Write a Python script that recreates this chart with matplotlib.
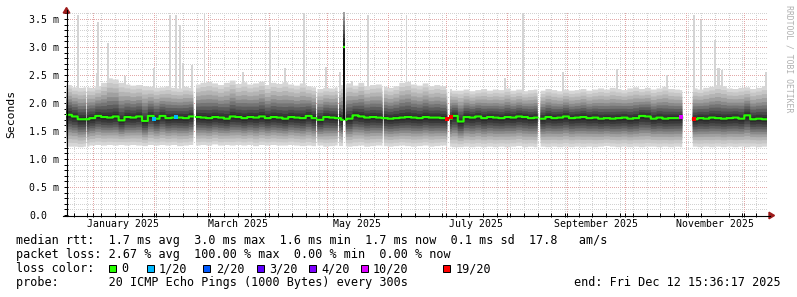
import numpy as np
import pandas as pd
import matplotlib
matplotlib.use("Agg")
import matplotlib.pyplot as plt
import matplotlib.dates as mdates
from matplotlib.patches import Rectangle, Polygon
from matplotlib.lines import Line2D

W, H = 797, 297
MONO = "DejaVu Sans Mono"

# ---------------- data ----------------
t_start = pd.Timestamp("2024-12-18 00:00")
t_end = pd.Timestamp("2025-12-12 15:36:17")
step_days = 3  # one sample per 3 days

median_ms = [
    1.79, 1.76, 1.71, 1.71, 1.73, 1.77, 1.75, 1.74, 1.76, 1.69,
    1.75, 1.74, 1.76, 1.68, 1.77, 1.72, 1.77, 1.73, 1.74, 1.74,
    1.73, 1.76, 1.75, 1.74, 1.73, 1.75, 1.74, 1.72, 1.76, 1.75,
    1.73, 1.75, 1.74, 1.76, 1.73, 1.75, 1.74, 1.72, 1.75, 1.74,
    1.73, 1.77, 1.73, 1.70, 1.75, 1.74, 1.73, 1.70, 1.72, 1.78,
    1.76, 1.74, 1.75, 1.74, 1.73, 1.72, 1.73, 1.74, 1.75, 1.74,
    1.73, 1.75, 1.74, 1.74, 1.73, 1.72, 1.77, 1.67, 1.75, 1.74,
    1.76, 1.73, 1.75, 1.74, 1.73, 1.75, 1.74, 1.76, 1.75, 1.73,
    1.74, 1.72, 1.75, 1.73, 1.74, 1.76, 1.73, 1.74, 1.75, 1.73,
    1.74, 1.72, 1.73, 1.72, 1.73, 1.74, 1.72, 1.73, 1.77, 1.76,
    1.72, 1.74, 1.72, 1.73, 1.73, 1.74, 1.73, 1.71, 1.73, 1.72,
    1.74, 1.73, 1.72, 1.73, 1.74, 1.72, 1.78, 1.71, 1.72, 1.71,
]
low_ms = [
    1.22, 1.22, 1.21, 1.22, 1.24, 1.25, 1.24, 1.25, 1.24, 1.25,
    1.24, 1.25, 1.24, 1.23, 1.25, 1.24, 1.25, 1.24, 1.25, 1.23,
    1.24, 1.25, 1.24, 1.25, 1.24, 1.26, 1.24, 1.25, 1.24, 1.25,
    1.24, 1.25, 1.23, 1.25, 1.24, 1.25, 1.24, 1.24, 1.25, 1.24,
    1.23, 1.24, 1.23, 1.24, 1.22, 1.23, 1.24, 1.23, 1.22, 1.23,
    1.24, 1.22, 1.23, 1.24, 1.23, 1.22, 1.23, 1.24, 1.23, 1.22,
    1.23, 1.24, 1.22, 1.23, 1.24, 1.22, 1.21, 1.21, 1.22, 1.21,
    1.22, 1.21, 1.22, 1.21, 1.22, 1.21, 1.22, 1.23, 1.21, 1.22,
    1.21, 1.22, 1.21, 1.22, 1.21, 1.22, 1.21, 1.22, 1.21, 1.22,
    1.21, 1.22, 1.23, 1.22, 1.21, 1.22, 1.21, 1.22, 1.21, 1.22,
    1.22, 1.21, 1.22, 1.21, 1.22, 1.21, 1.22, 1.22, 1.21, 1.22,
    1.21, 1.22, 1.21, 1.22, 1.21, 1.22, 1.21, 1.22, 1.21, 1.22,
]
high_ms = [
    2.32, 2.28, 2.27, 2.28, 2.27, 2.30, 2.36, 2.44, 2.42, 2.36,
    2.33, 2.31, 2.32, 2.30, 2.29, 2.27, 2.28, 2.30, 2.27, 2.26,
    2.29, 2.27, 2.33, 2.36, 2.38, 2.35, 2.32, 2.36, 2.40, 2.34,
    2.37, 2.33, 2.35, 2.38, 2.32, 2.36, 2.34, 2.37, 2.33, 2.31,
    2.35, 2.30, 2.28, 2.25, 2.27, 2.26, 2.28, 2.33, 2.35, 2.31,
    2.36, 2.30, 2.32, 2.33, 2.29, 2.27, 2.30, 2.36, 2.38, 2.33,
    2.31, 2.35, 2.30, 2.32, 2.30, 2.25, 2.22, 2.22, 2.24, 2.21,
    2.23, 2.25, 2.22, 2.24, 2.23, 2.26, 2.22, 2.24, 2.21, 2.23,
    2.24, 2.22, 2.25, 2.23, 2.21, 2.24, 2.22, 2.23, 2.25, 2.22,
    2.24, 2.26, 2.24, 2.27, 2.25, 2.23, 2.26, 2.28, 2.25, 2.27,
    2.24, 2.26, 2.29, 2.25, 2.24, 2.23, 2.20, 2.26, 2.24, 2.27,
    2.29, 2.32, 2.30, 2.26, 2.25, 2.27, 2.28, 2.25, 2.27, 2.30,
]

# highest ping of single samples (light grey spikes)
peak_dates = [
    "2024-12-24 00:00", "2025-01-02 18:00", "2025-01-03 13:40", "2025-01-08 17:00",
    "2025-01-17 07:00", "2025-02-01 03:36", "2025-02-09 08:38", "2025-02-12 06:43",
    "2025-02-14 12:00", "2025-02-15 21:00", "2025-02-20 12:00", "2025-02-27 01:26",
    "2025-03-18 19:12", "2025-04-01 16:48", "2025-04-09 09:36", "2025-04-18 21:36",
    "2025-04-30 09:36", "2025-05-07 14:24", "2025-05-13 16:48", "2025-05-22 00:00",
    "2025-06-10 16:48", "2025-07-31 04:48", "2025-08-09 12:00", "2025-08-30 00:00",
    "2025-09-26 16:48", "2025-10-22 09:36", "2025-11-05 04:48", "2025-11-08 19:12",
    "2025-11-16 04:48", "2025-11-17 07:12", "2025-11-18 04:48", "2025-11-19 14:24",
    "2025-12-12 04:48",
]
peak_ms = [
    3.57, 2.53, 3.45, 3.08,
    2.48, 2.62, 3.57, 3.57,
    3.39, 2.71, 2.68, 3.60,
    2.55, 3.35, 2.62, 3.60,
    2.64, 2.55, 2.40, 3.57,
    3.57, 2.45, 3.60, 2.55,
    2.60, 2.50, 3.57, 3.48,
    3.12, 2.62, 2.62, 2.59,
    2.55,
]

# periods without data
gap_starts = ["2024-12-28 06:14", "2025-02-21 07:12", "2025-04-25 07:12", "2025-05-06 09:36",
              "2025-05-10 00:00", "2025-05-29 09:36", "2025-07-01 14:24", "2025-08-16 21:36",
              "2025-10-30 04:48"]
gap_ends = ["2024-12-28 16:48", "2025-02-22 16:48", "2025-04-26 00:00", "2025-05-07 04:48",
            "2025-05-10 14:00", "2025-05-30 02:24", "2025-07-03 00:00", "2025-08-18 12:00",
            "2025-11-04 14:24"]

# latency burst
burst_start = "2025-05-09 00:00"
burst_end = "2025-05-10 00:00"
burst_low_ms = 1.70
burst_median_ms = 3.00
burst_high_ms = 3.62

# samples with packet loss
loss_dates = ["2025-02-01 03:36", "2025-02-12 07:12", "2025-07-01 07:12",
              "2025-07-03 09:36", "2025-10-29 12:00", "2025-11-05 04:48"]
loss_ms = [1.714, 1.755, 1.71, 1.744, 1.744, 1.71]
loss_level = ["1/20", "1/20", "19/20", "19/20", "10/20", "19/20"]

loss_legend_labels = ["0", "1/20", "2/20", "3/20", "4/20", "10/20", "19/20"]
loss_legend_colors = ["#26ff00", "#00b8ff", "#0059ff", "#5e00ff", "#7e00ff", "#dd00ff", "#ff0000"]

month_label_text = ["January 2025", "March 2025", "May 2025", "July 2025",
                    "September 2025", "November 2025"]
month_label_month = [1, 3, 5, 7, 9, 11]

ytick_vals = [0.0, 0.5, 1.0, 1.5, 2.0, 2.5, 3.0, 3.5]
ytick_text = ["0.0", "0.5 m", "1.0 m", "1.5 m", "2.0 m", "2.5 m", "3.0 m", "3.5 m"]

legend_line1 = "median rtt:  1.7 ms avg  3.0 ms max  1.6 ms min  1.7 ms now  0.1 ms sd  17.8   am/s"
legend_line2 = "packet loss: 2.67 % avg  100.00 % max  0.00 % min  0.00 % now"
legend_line3 = "loss color:"
legend_line4 = "probe:       20 ICMP Echo Pings (1000 Bytes) every 300s"
end_text = "end: Fri Dec 12 15:36:17 2025"
side_text = "RRDTOOL / TOBI OETIKER"

# ---------------- figure ----------------
def dnum(s):
    return mdates.date2num(pd.Timestamp(s).to_pydatetime())

def fx(px):
    return px / W

def fy(py):
    return 1 - py / H

fig = plt.figure(figsize=(W / 100, H / 100), dpi=100, facecolor="white")
ax = fig.add_axes([fx(66), fy(215), 701 / W, 203 / H])
ax.set_facecolor("white")
x0 = dnum(t_start)
x1 = dnum(t_end)
ax.set_xlim(x0, x1)
ax.set_ylim(0, 203 / 56)

n = len(median_ms)
fine = np.arange(x0, x0 + step_days * n, 0.04)
idx = np.minimum(((fine - x0) // step_days).astype(int), n - 1)
med = np.asarray(median_ms)[idx]
lo = np.asarray(low_ms)[idx]
hi = np.asarray(high_ms)[idx]
valid = np.ones(fine.size, bool)
for s, e in zip(gap_starts, gap_ends):
    valid &= ~((fine >= dnum(s)) & (fine < dnum(e)))
bs, be = dnum(burst_start), dnum(burst_end)
valid &= ~((fine >= bs) & (fine < be))

# grid (dotted, behind the smoke)
grid_minor = "#d2d2d2"
grid_major = "#e2a8a8"
dot = (0, (1, 1.6))
weeks = pd.date_range("2024-12-22", t_end, freq="7D")
months = pd.date_range("2025-01-01", t_end, freq="MS")
for w in weeks:
    ax.axvline(dnum(w), color=grid_minor, lw=0.72, ls=dot, zorder=0.5, antialiased=False)
for m in months:
    ax.axvline(dnum(m), color=grid_major, lw=0.72, ls=dot, zorder=0.6, antialiased=False)
for k in range(1, 37):
    v = k / 10
    if k % 5:
        ax.axhline(v, color=grid_minor, lw=0.72, ls=dot, zorder=0.5, antialiased=False)
    else:
        ax.axhline(v, color=grid_major, lw=0.72, ls=dot, zorder=0.6, antialiased=False)

# light grey spikes (max ping)
ax.bar([dnum(d) for d in peak_dates], np.asarray(peak_ms) - 1.9, bottom=1.9,
       width=1.0, color="#d4d4d4", linewidth=0, zorder=1.5)

# smoke
up_frac = [1.0, 0.88, 0.76, 0.64, 0.52, 0.42, 0.32, 0.22, 0.13, 0.06]
dn_frac = [1.0, 0.88, 0.76, 0.65, 0.55, 0.46, 0.37, 0.28, 0.19, 0.1]
greys = ["#d6d6d6", "#c6c6c6", "#b4b4b4", "#a0a0a0", "#8a8a8a",
         "#747474", "#5e5e5e", "#4a4a4a", "#383838", "#2a2a2a"]
for k in range(10):
    top = med + up_frac[k] * (hi - med)
    bot = med - dn_frac[k] * (med - lo)
    ax.fill_between(fine, bot, top, where=valid, step="post", color=greys[k],
                    linewidth=0, zorder=2)

# burst column
ax.bar([bs], [burst_median_ms - burst_low_ms], bottom=burst_low_ms, width=be - bs,
       align="edge", color="#0c0c0c", linewidth=0, zorder=3)
nb = 8
bedges = np.linspace(burst_median_ms, burst_high_ms, nb + 1)
bcols = [str(0.08 + 0.55 * i / (nb - 1)) for i in range(nb)]
ax.bar([bs] * nb, np.diff(bedges), bottom=bedges[:-1], width=be - bs, align="edge",
       color=bcols, linewidth=0, zorder=3)
ax.plot([bs, be], [burst_median_ms, burst_median_ms], color=loss_legend_colors[0],
        lw=1.6, solid_capstyle="butt", zorder=4)

# median line
ax.plot(fine, np.where(valid, med, np.nan), drawstyle="steps-post",
        color=loss_legend_colors[0], lw=1.5, zorder=4)
lc = dict(zip(loss_legend_labels, loss_legend_colors))
for d, v, l in zip(loss_dates, loss_ms, loss_level):
    ax.plot([dnum(d)], [v], marker="s", ms=2.4, mew=0, color=lc[l], zorder=5)

for sp in ax.spines.values():
    sp.set_visible(False)

# ticks / labels
centers = []
for m in month_label_month:
    a = pd.Timestamp(2025, m, 1)
    b = pd.Timestamp(2025, m + 1, 1)
    centers.append((dnum(a) + dnum(b)) / 2)
ax.set_xticks(centers, month_label_text)
ax.set_xticks([dnum(w) for w in weeks] + [dnum(m) for m in months], minor=True)
ax.tick_params(axis="x", which="major", length=0, pad=2.8, labelsize=7.1)
ax.tick_params(axis="x", which="minor", length=3, width=0.72, direction="inout", color="black")
for lbl in ax.get_xticklabels():
    lbl.set_fontfamily(MONO)

ax.set_yticks(ytick_vals, ytick_text)
ax.set_yticks([k / 10 for k in range(1, 37)], minor=True)
ax.tick_params(axis="y", which="major", length=3, width=0.72, direction="inout",
               pad=24.8, labelsize=7.1)
ax.tick_params(axis="y", which="minor", length=3, width=0.72, direction="inout")
for lbl in ax.get_yticklabels():
    lbl.set_fontfamily(MONO)
    lbl.set_horizontalalignment("left")

# axes lines and arrows
arrow_c = "#9e1b1b"
fig.add_artist(Line2D([fx(66.5), fx(66.5)], [fy(216), fy(10)], color="black", lw=0.8))
fig.add_artist(Line2D([fx(63), fx(770)], [fy(215.5), fy(215.5)], color="black", lw=0.8))
fig.add_artist(Polygon([(fx(66.5), fy(7.5)), (fx(63.2), fy(13)), (fx(69.8), fy(13))],
                       closed=True, color=arrow_c, transform=fig.transFigure))
fig.add_artist(Polygon([(fx(774.5), fy(215.5)), (fx(769), fy(212.2)), (fx(769), fy(218.8))],
                       closed=True, color=arrow_c, transform=fig.transFigure))

fig.text(fx(11), fy(114), "Seconds", rotation=90, ha="center", va="center",
         fontsize=8.2, family=MONO)
fig.text(fx(788.5), fy(59), side_text, rotation=270, ha="center", va="center",
         fontsize=5.9, family=MONO, color="#b0b0b0")

# legend
lfs = 8.45
fig.text(fx(16), fy(244), legend_line1, fontsize=lfs, family=MONO, va="baseline")
fig.text(fx(16), fy(258), legend_line2, fontsize=lfs, family=MONO, va="baseline")
fig.text(fx(16), fy(272), legend_line3, fontsize=lfs, family=MONO, va="baseline")
fig.text(fx(16), fy(286), legend_line4, fontsize=lfs, family=MONO, va="baseline")
fig.text(fx(780.5), fy(286), end_text, fontsize=lfs, family=MONO, va="baseline", ha="right")
sq_x = [108.5, 146.5, 203.5, 256.5, 308.5, 360.5, 443.5]
for x, lab, col in zip(sq_x, loss_legend_labels, loss_legend_colors):
    fig.add_artist(Rectangle((fx(x), fy(272)), 7 / W, 7 / H, transform=fig.transFigure,
                             facecolor=col, edgecolor="black", lw=0.72))
    fig.text(fx(x + 12.5), fy(272), lab, fontsize=lfs, family=MONO, va="baseline")

fig.savefig("out.png", dpi=100, facecolor="white")
